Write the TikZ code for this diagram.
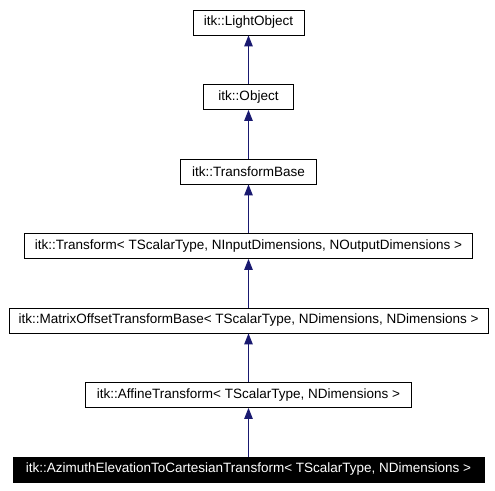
\documentclass[tikz,border=0pt]{standalone}
\usepackage{fontspec}
\setmainfont{Liberation Sans}
\usetikzlibrary{arrows.meta}
\definecolor{edgeblue}{HTML}{191970}
\begin{document}
\begin{tikzpicture}[x=1pt,y=-1pt,
  cls/.style={draw=black, line width=0.8pt, fill=white, minimum height=25pt, inner sep=0pt, font=\fontsize{13.5}{15}\selectfont, text=black},
  cur/.style={cls, fill=black, text=white},
  inh/.style={draw=edgeblue, line width=0.9pt, -{Triangle[length=11pt,width=8.5pt]}}]
\useasboundingbox (0,0) rectangle (495,490);
\node[cls, minimum width=111pt] (lo) at (248.5,22.5) {itk::LightObject};
\node[cls, minimum width=90pt] (ob) at (248.5,97) {itk::Object};
\node[cls, minimum width=136pt] (tb) at (248.5,171.5) {itk::TransformBase};
\node[cls, minimum width=448pt] (tr) at (248.5,246) {itk::Transform< TScalarType, NInputDimensions, NOutputDimensions >};
\node[cls, minimum width=479pt] (mo) at (248.5,320.5) {itk::MatrixOffsetTransformBase< TScalarType, NDimensions, NDimensions >};
\node[cls, minimum width=326pt] (af) at (248.5,395) {itk::AffineTransform< TScalarType, NDimensions >};
\node[cur, minimum width=471pt] (az) at (248.5,469.5) {itk::AzimuthElevationToCartesianTransform< TScalarType, NDimensions >};
\draw[inh] (ob) -- (lo);
\draw[inh] (tb) -- (ob);
\draw[inh] (tr) -- (tb);
\draw[inh] (mo) -- (tr);
\draw[inh] (af) -- (mo);
\draw[inh] (az) -- (af);
\end{tikzpicture}
\end{document}
